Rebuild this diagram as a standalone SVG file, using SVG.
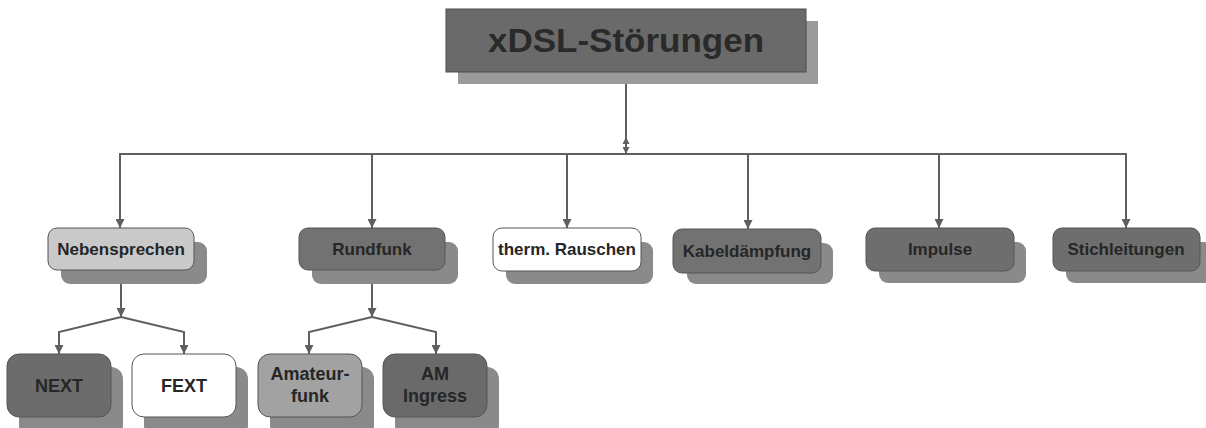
<svg xmlns="http://www.w3.org/2000/svg" width="1206" height="428" viewBox="0 0 1206 428">
<style>
.sh{fill:#8a8a8a}
.bx{stroke:#555;stroke-width:1}
.ln{fill:none;stroke:#5f5f5f;stroke-width:2}
.t1{font-family:"Liberation Sans",Arial,sans-serif;font-weight:bold;font-size:17px;fill:#262626;text-anchor:middle}
.t2{font-family:"Liberation Sans",Arial,sans-serif;font-weight:bold;font-size:18px;fill:#262626;text-anchor:middle}
</style>
<defs>
<marker id="ah" viewBox="0 0 10 10" refX="10" refY="5" markerWidth="4.5" markerHeight="4.5" orient="auto-start-reverse" markerUnits="strokeWidth">
<path d="M0,0 L10,5 L0,10 z" fill="#5f5f5f"/>
</marker>
<marker id="ahs" viewBox="0 0 10 10" refX="10" refY="5" markerWidth="3.6" markerHeight="3.6" orient="auto-start-reverse" markerUnits="strokeWidth">
<path d="M0,0 L10,5 L0,10 z" fill="#5f5f5f"/>
</marker>
</defs>
<rect width="1206" height="428" fill="#fff"/>
<g id="connectors">
<path class="ln" d="M626,72 V154"/>
<path class="ln" d="M626,137 V154" marker-start="url(#ahs)" marker-end="url(#ahs)"/>
<path class="ln" d="M119,154 H1127"/>
<path class="ln" d="M120,154 V228" marker-end="url(#ah)"/>
<path class="ln" d="M372,154 V228" marker-end="url(#ah)"/>
<path class="ln" d="M567,154 V228" marker-end="url(#ah)"/>
<path class="ln" d="M748,154 V229" marker-end="url(#ah)"/>
<path class="ln" d="M939,154 V228" marker-end="url(#ah)"/>
<path class="ln" d="M1126,154 V228" marker-end="url(#ah)"/>
<path class="ln" d="M121,270 V317" marker-end="url(#ah)"/>
<path class="ln" d="M121,317 L59,332 V354" marker-end="url(#ah)"/>
<path class="ln" d="M121,317 L184,332 V354" marker-end="url(#ah)"/>
<path class="ln" d="M372,270 V317" marker-end="url(#ah)"/>
<path class="ln" d="M372,317 L309,332 V354" marker-end="url(#ah)"/>
<path class="ln" d="M372,317 L436,332 V354" marker-end="url(#ah)"/>
</g>
<g id="title">
<rect x="458" y="21" width="360" height="63" fill="#9a9a9a"/>
<rect x="446" y="9" width="360" height="63" fill="#6a6a6a" stroke="#4a4a4a" stroke-width="1"/>
<text x="626" y="52" font-family="'Liberation Sans',Arial,sans-serif" font-weight="bold" font-size="33" fill="#2a2a2a" text-anchor="middle" textLength="276" lengthAdjust="spacingAndGlyphs">xDSL-Störungen</text>
</g>
<g id="nebensprechen">
<rect class="sh" x="61" y="242" width="146" height="42" rx="9"/>
<rect class="bx" x="48" y="228" width="146" height="42" rx="9" fill="#c9c9c9"/>
<text class="t1" x="121" y="255">Nebensprechen</text>
</g>
<g id="rundfunk">
<rect class="sh" x="312" y="242" width="146" height="42" rx="9"/>
<rect class="bx" x="299" y="228" width="146" height="42" rx="9" fill="#727272"/>
<text class="t1" x="372" y="255">Rundfunk</text>
</g>
<g id="rauschen">
<rect class="sh" x="506" y="242" width="147" height="42" rx="9"/>
<rect class="bx" x="493" y="228" width="148" height="43" rx="9" fill="#ffffff"/>
<text class="t1" x="567" y="255">therm. Rauschen</text>
</g>
<g id="kabeldaempfung">
<rect class="sh" x="687" y="243" width="146" height="41" rx="9"/>
<rect class="bx" x="673" y="229" width="148" height="44" rx="9" fill="#727272"/>
<text class="t1" x="747" y="257" fill="#333">Kabeldämpfung</text>
</g>
<g id="impulse">
<rect class="sh" x="879" y="242" width="147" height="41" rx="9"/>
<rect class="bx" x="866" y="228" width="148" height="43" rx="9" fill="#6e6e6e"/>
<text class="t1" x="940" y="255">Impulse</text>
</g>
<g id="stichleitungen">
<rect class="sh" x="1066" y="242" width="147" height="41" rx="9"/>
<rect class="bx" x="1053" y="228" width="147" height="43" rx="9" fill="#6e6e6e"/>
<text class="t1" x="1126" y="255">Stichleitungen</text>
</g>
<g id="next">
<rect class="sh" x="19" y="367" width="104" height="70" rx="12"/>
<rect class="bx" x="7" y="354" width="104" height="63" rx="12" fill="#6c6c6c"/>
<text class="t2" x="59" y="392">NEXT</text>
</g>
<g id="fext">
<rect class="sh" x="144" y="367" width="104" height="70" rx="12"/>
<rect class="bx" x="132" y="354" width="104" height="63" rx="12" fill="#ffffff"/>
<text class="t2" x="184" y="392">FEXT</text>
</g>
<g id="amateurfunk">
<rect class="sh" x="270" y="367" width="104" height="70" rx="12"/>
<rect class="bx" x="258" y="354" width="104" height="63" rx="12" fill="#a2a2a2"/>
<text class="t2" x="310" y="380">Amateur-</text>
<text class="t2" x="310" y="402">funk</text>
</g>
<g id="amingress">
<rect class="sh" x="395" y="367" width="104" height="70" rx="12"/>
<rect class="bx" x="383" y="354" width="104" height="63" rx="12" fill="#6a6a6a"/>
<text class="t2" x="435" y="380">AM</text>
<text class="t2" x="435" y="402">Ingress</text>
</g>
</svg>
